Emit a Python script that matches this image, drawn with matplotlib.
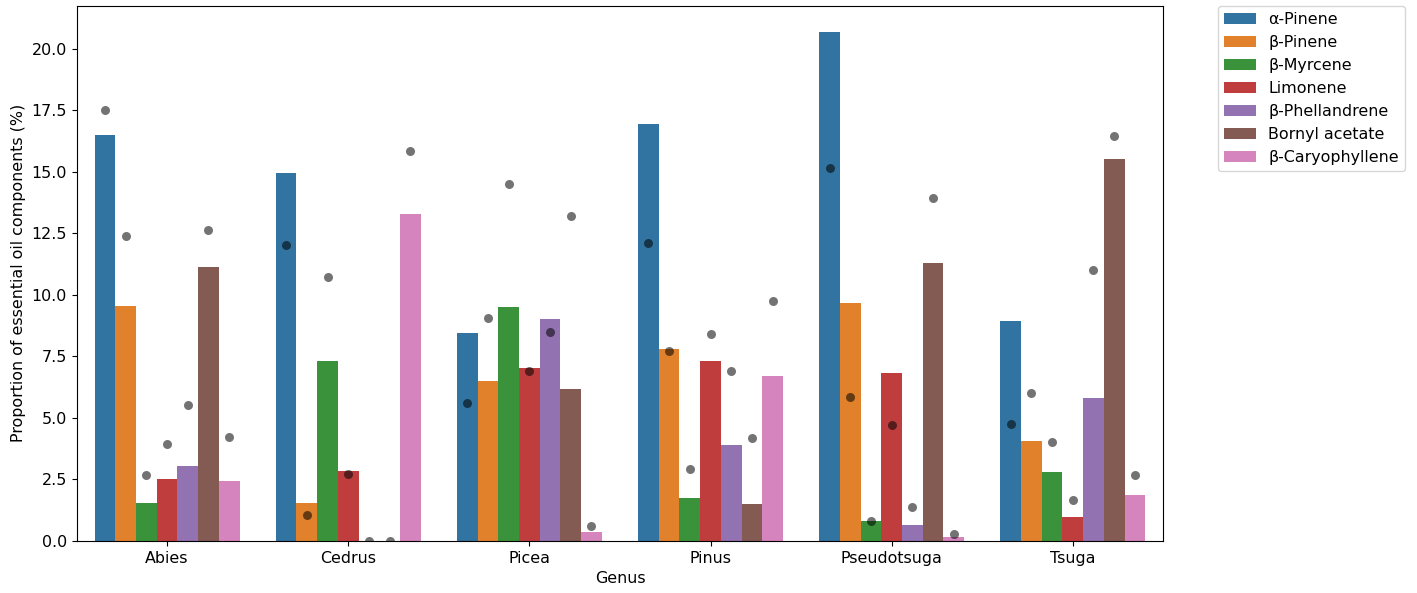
import numpy as np
import matplotlib.pyplot as plt

genera = ["Abies", "Cedrus", "Picea", "Pinus", "Pseudotsuga", "Tsuga"]
components = ["α-Pinene", "β-Pinene", "β-Myrcene", "Limonene",
              "β-Phellandrene", "Bornyl acetate", "β-Caryophyllene"]

# bar heights, one list per component (order follows genera)
alpha_pinene = [16.52, 14.95, 8.45, 16.93, 20.69, 8.93]
beta_pinene = [9.55, 1.52, 6.50, 7.81, 9.65, 4.05]
beta_myrcene = [1.55, 7.33, 9.49, 1.75, 0.81, 2.78]
limonene = [2.50, 2.84, 7.02, 7.30, 6.84, 0.98]
beta_phellandrene = [3.05, 0.0, 9.02, 3.91, 0.63, 5.80]
bornyl_acetate = [11.15, 0.0, 6.18, 1.49, 11.29, 15.52]
beta_caryophyllene = [2.44, 13.27, 0.34, 6.69, 0.14, 1.87]

# individual points shown over the bars
alpha_pinene_pts = [17.53, 12.02, 5.60, 12.13, 15.18, 4.74]
beta_pinene_pts = [12.41, 1.03, 9.06, 7.70, 5.83, 6.01]
beta_myrcene_pts = [2.68, 10.71, 14.52, 2.91, 0.80, 4.03]
limonene_pts = [3.94, 2.71, 6.90, 8.42, 4.69, 1.64]
beta_phellandrene_pts = [5.54, 0.0, 8.51, 6.90, 1.37, 11.00]
bornyl_acetate_pts = [12.64, 0.0, 13.21, 4.19, 13.96, 16.46]
beta_caryophyllene_pts = [4.22, 15.84, 0.61, 9.77, 0.28, 2.68]

bars = [alpha_pinene, beta_pinene, beta_myrcene, limonene,
        beta_phellandrene, bornyl_acetate, beta_caryophyllene]
points = [alpha_pinene_pts, beta_pinene_pts, beta_myrcene_pts, limonene_pts,
          beta_phellandrene_pts, bornyl_acetate_pts, beta_caryophyllene_pts]

colors = ["#3274a1", "#e1812c", "#3a923a", "#c03d3e",
          "#9372b2", "#845b53", "#d684bd"]

fs = 11.4

fig, ax = plt.subplots(figsize=(14.17, 5.93), dpi=100)
fig.subplots_adjust(left=0.054, right=0.821, top=0.99, bottom=0.088)

x = np.arange(len(genera))
n = len(components)
w = 0.8 / n

for i, comp in enumerate(components):
    offs = x - 0.4 + w * (i + 0.5)
    ax.bar(offs, bars[i], width=w, color=colors[i], label=comp)
    ax.scatter(offs, points[i], s=42, color="black", alpha=0.55,
               linewidths=0, zorder=3)

ax.set_xticks(x)
ax.set_xticklabels(genera, fontsize=fs)
ax.set_xlim(-0.5, len(genera) - 0.5)
ax.set_ylim(0, 21.75)
ax.tick_params(axis="y", labelsize=fs)
ax.set_xlabel("Genus", fontsize=fs)
ax.set_ylabel("Proportion of essential oil components (%)", fontsize=fs)

ax.legend(bbox_to_anchor=(1.05, 1), loc="upper left", borderaxespad=0,
          fontsize=fs)

plt.savefig("out.png")
